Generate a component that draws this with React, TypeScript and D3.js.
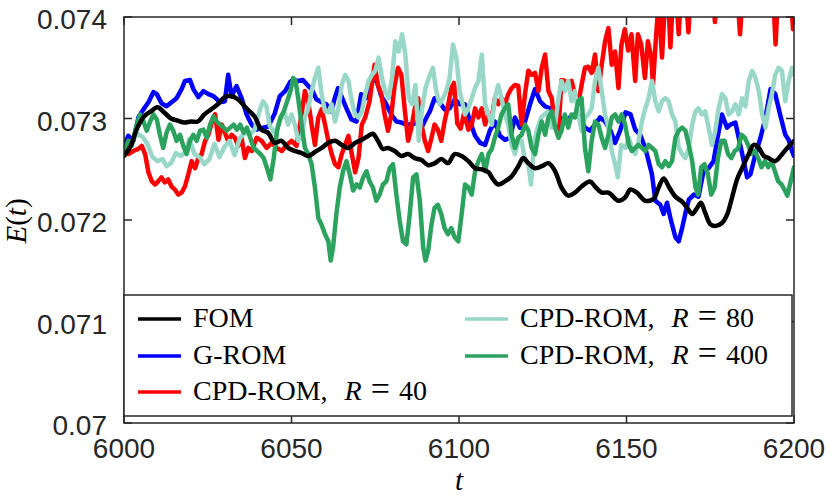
import React from 'react'
import * as d3 from 'd3'

type Pt = [number, number]

// FOM (smooth reference)
const fom: Pt[] = [
  [6000,0.07263],[6002,0.07273],[6004,0.07291],[6006,0.07302],[6008,0.07307],[6010,0.07311],[6012,0.07306],[6014,0.0730],[6016,0.07298],[6018,0.07296],[6020,0.07297],[6022,0.07297],[6024,0.07304],[6026,0.07309],[6028,0.07314],[6030,0.07321],[6032,0.07322],[6034,0.07319],[6036,0.07312],[6037.5,0.07307],[6039,0.07302],[6041,0.07289],[6043,0.07286],[6045,0.07276],[6047,0.07278],[6049,0.07271],[6051,0.07268],[6053,0.07266],[6055,0.07263],[6057,0.07267],[6059,0.07271],[6061,0.07276],[6063,0.07278],[6065,0.07274],[6067,0.07271],[6069,0.07276],[6071,0.07279],[6073,0.07283],[6074.3,0.07285],[6075.8,0.07278],[6077.3,0.0727],[6078.8,0.07271],[6080.8,0.07268],[6082.8,0.07263],[6084.8,0.07265],[6086.8,0.07261],[6088.8,0.07259],[6090.8,0.07254],[6092.8,0.07256],[6094.7,0.0726],[6096.7,0.07256],[6098.7,0.07265],[6100.8,0.07263],[6102.8,0.07258],[6104.8,0.07251],[6106.8,0.0725],[6108.8,0.07247],[6110.2,0.0724],[6111.7,0.07235],[6113.7,0.07238],[6115.7,0.07243],[6117.7,0.07253],[6119.2,0.07261],[6120.7,0.07256],[6122.7,0.07251],[6124.7,0.07253],[6126.7,0.07256],[6128.7,0.07248],[6130.6,0.07232],[6132.6,0.07224],[6134.6,0.07227],[6136.6,0.07233],[6139.1,0.07238],[6140.6,0.07233],[6142.6,0.07227],[6144.6,0.07227],[6147.6,0.07219],[6149.5,0.07222],[6151.2,0.0723],[6153.1,0.07227],[6155.6,0.07219],[6158.1,0.07221],[6159.6,0.07232],[6161.1,0.07241],[6162.6,0.07233],[6164.6,0.07223],[6166.6,0.07218],[6168.1,0.07212],[6169.6,0.07206],[6171.1,0.07212],[6172.2,0.07217],[6173.5,0.07207],[6175,0.07196],[6176.5,0.07194],[6178.5,0.07197],[6180,0.07205],[6181.5,0.07222],[6183,0.0724],[6184.5,0.07251],[6186.5,0.07265],[6188,0.07274],[6189.5,0.07271],[6191,0.07263],[6192.4,0.07261],[6194.4,0.07258],[6196,0.07263],[6198,0.07271],[6200,0.07278],
]

// G-ROM
const grom: Pt[] = [
  [6000,0.07273],[6001.3,0.07283],[6002.8,0.07278],[6004.3,0.07301],[6005.8,0.07309],[6007.3,0.07316],[6008.8,0.07326],[6009.8,0.07324],[6011.2,0.07315],[6012.7,0.07312],[6014.2,0.07316],[6015.7,0.0732],[6017.2,0.07329],[6018.2,0.07337],[6019.7,0.07338],[6020.7,0.07329],[6022.2,0.07321],[6023.7,0.07327],[6025.2,0.07324],[6026.7,0.07322],[6028.7,0.07316],[6030.1,0.07317],[6031.1,0.07343],[6032.1,0.07322],[6033.6,0.07332],[6035.1,0.0732],[6036.6,0.07304],[6038.1,0.07294],[6039.6,0.07289],[6041.5,0.07291],[6043,0.07292],[6045,0.07305],[6046.5,0.07322],[6048.1,0.07327],[6049.6,0.07336],[6050.5,0.07338],[6052,0.07337],[6053.4,0.07338],[6055,0.07332],[6056,0.07329],[6057.4,0.07319],[6059,0.07316],[6060.4,0.07314],[6061.9,0.07307],[6062.9,0.0732],[6063.9,0.0733],[6064.9,0.07322],[6066.4,0.0731],[6067.9,0.07299],[6069.4,0.07297],[6070.8,0.07324],[6072.3,0.0732],[6073.8,0.07337],[6075.3,0.07338],[6076.8,0.07322],[6078.3,0.07314],[6079.8,0.07304],[6081.3,0.07297],[6082.8,0.07296],[6084.3,0.07294],[6085.8,0.07294],[6087.3,0.07296],[6088.8,0.07291],[6090.3,0.07301],[6091.3,0.07307],[6092.7,0.0732],[6094.2,0.07316],[6095.7,0.07309],[6097.2,0.0731],[6098.7,0.07319],[6100.3,0.07314],[6101.8,0.07314],[6103.3,0.07297],[6104.8,0.07283],[6106.3,0.07276],[6107.8,0.07274],[6109.2,0.07288],[6110.7,0.07297],[6112.2,0.07283],[6113.7,0.07279],[6115.2,0.07281],[6116.7,0.07301],[6118.2,0.07291],[6119.7,0.07297],[6121.2,0.07314],[6122.7,0.07329],[6124.2,0.07317],[6125.7,0.07312],[6127.2,0.0731],[6128.7,0.07306],[6130.1,0.07301],[6131.6,0.07297],[6133.1,0.07301],[6134.6,0.07304],[6136.1,0.07302],[6137.6,0.07291],[6139.1,0.07288],[6140.6,0.07294],[6142.1,0.07301],[6143.6,0.07297],[6145.1,0.07289],[6146.6,0.07276],[6148.1,0.07288],[6149.7,0.07306],[6151.2,0.07304],[6152.6,0.07289],[6154.1,0.07284],[6155.6,0.07271],[6156.6,0.07258],[6157.6,0.07245],[6158.6,0.07219],[6160.1,0.07215],[6161.1,0.07206],[6162.1,0.07217],[6163.1,0.07202],[6164.6,0.07183],[6165.6,0.07179],[6166.6,0.07192],[6167.6,0.07207],[6168.6,0.0722],[6170.1,0.07225],[6171.5,0.07223],[6173,0.07248],[6174.5,0.07251],[6176,0.07258],[6177,0.07278],[6178.5,0.07304],[6180,0.07291],[6181,0.07294],[6182.5,0.07296],[6183.5,0.07281],[6185,0.07258],[6186,0.07242],[6187,0.07245],[6188.5,0.07265],[6190,0.07281],[6191.5,0.07301],[6193,0.07329],[6194.4,0.07324],[6196,0.07302],[6197.4,0.07284],[6198.4,0.07279],[6199.4,0.07268],[6200,0.07263],
]

// CPD-ROM, R = 40
const cpd40: Pt[] = [
  [6000,0.0727],[6001.3,0.07265],[6002.8,0.07268],[6004.3,0.0727],[6005.3,0.07273],[6006.3,0.07265],[6007.3,0.07247],[6008.3,0.07238],[6009.3,0.07235],[6010.2,0.07238],[6011.2,0.07242],[6012.2,0.07237],[6013.2,0.0724],[6014.2,0.07233],[6015.2,0.0723],[6016.2,0.07225],[6017.2,0.07227],[6018.2,0.07233],[6019.2,0.07245],[6020.2,0.07258],[6021.2,0.07251],[6022.2,0.07261],[6023.2,0.07265],[6024.2,0.07278],[6025.2,0.07284],[6026.2,0.07296],[6027.2,0.07304],[6028.2,0.07279],[6029.2,0.07294],[6030.1,0.07286],[6031.1,0.07278],[6032.1,0.07284],[6033.1,0.07281],[6034.1,0.07273],[6035.1,0.07281],[6036.1,0.07261],[6037.1,0.07271],[6038.1,0.07268],[6039.6,0.07281],[6041.1,0.07278],[6042.6,0.07271],[6044.1,0.07276],[6045.6,0.07271],[6047.1,0.07268],[6048.6,0.07274],[6050,0.07278],[6051.5,0.07273],[6053,0.07304],[6054,0.07327],[6055,0.07317],[6056,0.07294],[6057,0.07274],[6058,0.07301],[6059,0.07309],[6060,0.07294],[6061,0.07278],[6062,0.07265],[6063,0.07255],[6064,0.07252],[6065,0.07265],[6066,0.07274],[6067,0.07283],[6068,0.07265],[6069,0.07247],[6070,0.07261],[6071,0.07294],[6072,0.07301],[6073.3,0.07317],[6074.8,0.07353],[6075.8,0.07333],[6076.8,0.07324],[6077.8,0.07304],[6078.8,0.07288],[6079.8,0.07304],[6080.8,0.07333],[6081.8,0.0735],[6082.8,0.07343],[6083.8,0.07309],[6084.8,0.07278],[6085.8,0.07291],[6086.8,0.0731],[6087.8,0.0732],[6088.8,0.07294],[6089.8,0.07278],[6090.8,0.07268],[6091.8,0.07281],[6092.7,0.07294],[6093.7,0.07289],[6094.7,0.07278],[6095.7,0.07297],[6096.7,0.07312],[6097.7,0.0733],[6098.5,0.07335],[6099.5,0.07295],[6100.5,0.0729],[6101.5,0.07305],[6102.8,0.07289],[6103.8,0.07294],[6104.8,0.0731],[6105.8,0.07301],[6106.8,0.0731],[6107.8,0.07294],[6108.8,0.07304],[6109.8,0.07301],[6110.7,0.0732],[6111.7,0.07314],[6112.7,0.0732],[6113.7,0.07314],[6114.7,0.07324],[6115.7,0.0733],[6116.7,0.07333],[6117.7,0.07332],[6118.7,0.07294],[6119.7,0.07324],[6120.7,0.07347],[6121.7,0.07343],[6122.7,0.07345],[6123.7,0.07327],[6124.7,0.0735],[6125.7,0.07363],[6126.7,0.07327],[6127.7,0.0732],[6128.7,0.07291],[6129.7,0.07288],[6130.6,0.07338],[6131.6,0.07337],[6132.6,0.07333],[6133.6,0.07337],[6134.6,0.07324],[6135.6,0.07315],[6136.6,0.07333],[6137.6,0.0735],[6138.6,0.07351],[6139.6,0.07345],[6140.6,0.07363],[6141.6,0.07327],[6142.6,0.07353],[6143.6,0.07376],[6144.6,0.07389],[6145.6,0.07353],[6146.6,0.07366],[6147.6,0.0733],[6148.5,0.07373],[6149.5,0.07388],[6150.5,0.07367],[6151.5,0.07383],[6152.6,0.07337],[6153.4,0.07383],[6154.4,0.07373],[6155.5,0.0734],[6156.4,0.07376],[6157.4,0.0736],[6157.9,0.07333],[6158.8,0.0738],[6159.6,0.07415],[6160.6,0.0736],[6161.4,0.0741],[6162.3,0.0743],[6163.1,0.0737],[6164,0.0743],[6164.8,0.0742],[6165.6,0.07383],[6166.5,0.0744],[6167.5,0.0743],[6168.5,0.07385],[6169.5,0.0745],[6171.5,0.0746],[6173.5,0.0744],[6175.5,0.0743],[6176.4,0.07395],[6177.5,0.0745],[6179.5,0.0746],[6181,0.0744],[6181.8,0.07405],[6182.7,0.0744],[6183.9,0.07383],[6185,0.0744],[6187,0.0746],[6189.5,0.0745],[6192,0.0746],[6193.5,0.0744],[6194.5,0.07373],[6195.5,0.0744],[6197,0.0746],[6199,0.0743],[6199.7,0.07388],[6200.2,0.0739],
]

// CPD-ROM, R = 80
const cpd80: Pt[] = [
  [6000,0.07271],[6002,0.07276],[6004,0.07285],[6005.5,0.07282],[6007,0.07275],[6008.5,0.07262],[6010,0.07258],[6011.5,0.0726],[6012.7,0.07253],[6014,0.07256],[6015.5,0.07266],[6017,0.07263],[6018.5,0.07268],[6019.5,0.0728],[6021,0.07265],[6022.5,0.07262],[6024,0.07255],[6025.5,0.0726],[6027,0.07275],[6028.5,0.07262],[6030,0.07272],[6031.5,0.07278],[6033,0.07264],[6034.5,0.0728],[6036,0.07286],[6037.5,0.07284],[6039,0.07289],[6040.5,0.07308],[6041.5,0.07317],[6042.5,0.07312],[6043.5,0.07293],[6045,0.07285],[6046.5,0.07298],[6048,0.07305],[6049,0.07294],[6050,0.07304],[6051,0.07294],[6052,0.07278],[6053,0.07281],[6054,0.07301],[6055,0.0731],[6056,0.07327],[6057,0.0734],[6058,0.0735],[6059,0.07324],[6060,0.07307],[6061,0.07306],[6062,0.07314],[6063,0.07297],[6064,0.0731],[6065,0.07333],[6066,0.07343],[6067,0.07337],[6068,0.07317],[6069,0.07304],[6070,0.07301],[6071,0.07307],[6072,0.07324],[6073,0.07337],[6074,0.07343],[6075,0.07347],[6076,0.0736],[6077,0.0734],[6078,0.07327],[6079,0.0732],[6080,0.0734],[6081,0.07376],[6082,0.07366],[6083,0.07383],[6084,0.07363],[6085,0.0732],[6086,0.07314],[6087,0.07333],[6088,0.07278],[6089,0.0731],[6090,0.0733],[6091,0.0734],[6092.2,0.0735],[6093.2,0.07327],[6094.2,0.07314],[6095.2,0.0732],[6096.2,0.07327],[6097.2,0.0734],[6098.2,0.07373],[6099.2,0.0736],[6100.2,0.07327],[6101.8,0.07304],[6102.8,0.0731],[6103.8,0.0732],[6104.8,0.0733],[6105.8,0.07337],[6106.8,0.07363],[6107.8,0.07314],[6108.8,0.07304],[6109.8,0.07294],[6110.7,0.0732],[6111.7,0.07333],[6112.7,0.0732],[6113.7,0.07304],[6114.7,0.07294],[6115.7,0.07274],[6116.7,0.07265],[6117.7,0.07278],[6118.7,0.07278],[6119.7,0.07258],[6120.7,0.07255],[6121.5,0.07235],[6122.5,0.07278],[6123.5,0.07291],[6124.5,0.07301],[6125.5,0.07304],[6126.5,0.07307],[6127.7,0.07291],[6128.7,0.07294],[6129.7,0.0732],[6130.6,0.07337],[6131.6,0.07327],[6132.6,0.07337],[6133.6,0.07317],[6134.6,0.07327],[6135.6,0.07304],[6136.6,0.07288],[6137.6,0.07301],[6138.6,0.07304],[6139.6,0.0731],[6140.6,0.07337],[6141.6,0.0735],[6142.6,0.07327],[6143.6,0.07304],[6144.6,0.07291],[6145.6,0.07268],[6146.6,0.07255],[6147.4,0.07242],[6148.4,0.07274],[6149.7,0.07271],[6150.7,0.07281],[6151.6,0.07271],[6152.6,0.07265],[6153.6,0.07278],[6154.6,0.07297],[6155.6,0.0731],[6156.6,0.0732],[6157.6,0.07337],[6158.6,0.07317],[6159.6,0.07307],[6160.6,0.07317],[6161.6,0.0732],[6162.6,0.07317],[6163.6,0.07304],[6164.6,0.07297],[6165.6,0.07271],[6166.6,0.07265],[6167.6,0.07261],[6168.6,0.07271],[6169.6,0.07294],[6170.6,0.07307],[6171.5,0.0731],[6172.5,0.07304],[6173.5,0.07307],[6174.5,0.07291],[6175.5,0.07274],[6176.5,0.07288],[6177.5,0.0731],[6178.5,0.07324],[6179.5,0.0732],[6180.5,0.07304],[6181.5,0.07307],[6182.5,0.07314],[6183.5,0.07304],[6184.5,0.0732],[6185.5,0.07312],[6186.5,0.07337],[6187.5,0.07347],[6188.5,0.0734],[6189.5,0.07327],[6190.5,0.07304],[6191.5,0.07291],[6192.4,0.0731],[6193.4,0.07324],[6194.4,0.07343],[6195.4,0.0735],[6196.4,0.07347],[6197.4,0.07317],[6198.4,0.07337],[6199.4,0.0735],[6200,0.07343],
]

// CPD-ROM, R = 400
const cpd400: Pt[] = [
  [6000,0.07268],[6001.3,0.07278],[6002.3,0.07273],[6003.8,0.07294],[6004.8,0.07304],[6005.8,0.07297],[6006.8,0.07288],[6007.8,0.07297],[6008.8,0.07304],[6009.8,0.07299],[6010.7,0.07284],[6011.7,0.07271],[6012.7,0.07286],[6013.7,0.07294],[6014.7,0.07288],[6015.7,0.07278],[6016.7,0.07284],[6017.7,0.07273],[6018.7,0.07265],[6019.7,0.07278],[6020.7,0.07284],[6021.7,0.07278],[6022.7,0.07288],[6023.7,0.07289],[6024.7,0.07281],[6025.7,0.07294],[6026.7,0.07302],[6027.7,0.07297],[6028.7,0.07294],[6029.7,0.07291],[6030.7,0.07288],[6031.7,0.07291],[6032.7,0.07294],[6033.7,0.07289],[6034.7,0.07294],[6035.7,0.07286],[6036.7,0.07291],[6037.7,0.07281],[6038.7,0.07271],[6039.7,0.07268],[6040.7,0.07265],[6041.7,0.07261],[6042.7,0.07251],[6043.7,0.0724],[6044.7,0.07261],[6045.7,0.07288],[6046.7,0.07301],[6047.7,0.07307],[6048.7,0.07317],[6049.7,0.07327],[6050.5,0.0734],[6051.2,0.07337],[6052,0.0732],[6053,0.07294],[6054,0.07271],[6055,0.07265],[6056,0.07255],[6057,0.07232],[6058,0.07202],[6059,0.07195],[6060,0.07186],[6061,0.07179],[6061.7,0.0716],[6062.4,0.07173],[6063.4,0.07206],[6064.4,0.07232],[6065.4,0.07248],[6066.4,0.07258],[6067.4,0.07245],[6068.4,0.07229],[6069.4,0.07235],[6070.4,0.07232],[6071.4,0.07242],[6072.4,0.07248],[6073.3,0.07238],[6074.3,0.07232],[6075.3,0.07219],[6076.3,0.07225],[6077.3,0.07235],[6078.3,0.07238],[6079.3,0.07251],[6080.3,0.07255],[6081.3,0.07225],[6082.3,0.07199],[6083.3,0.07179],[6084.3,0.07176],[6085.3,0.07206],[6086.3,0.07242],[6087.3,0.07245],[6088.3,0.07219],[6089.3,0.07173],[6090,0.0716],[6090.8,0.0717],[6091.8,0.07196],[6092.7,0.07212],[6093.7,0.07215],[6094.7,0.07206],[6095.7,0.07192],[6096.7,0.07186],[6097.7,0.07192],[6098.7,0.07183],[6099.8,0.07179],[6100.8,0.07206],[6101.8,0.07235],[6102.8,0.07232],[6103.8,0.07225],[6104.8,0.07248],[6105.8,0.07258],[6106.8,0.07265],[6107.8,0.07248],[6108.8,0.07265],[6109.8,0.0727],[6110.7,0.07281],[6111.7,0.07291],[6112.7,0.07304],[6113.7,0.0731],[6114.7,0.07314],[6115.7,0.07284],[6116.7,0.07271],[6117.7,0.07281],[6118.7,0.07284],[6119.7,0.07294],[6120.7,0.07288],[6121.7,0.07271],[6122.7,0.07265],[6123.7,0.07284],[6124.7,0.07297],[6125.7,0.07284],[6126.7,0.07301],[6127.7,0.07307],[6128.7,0.07291],[6129.7,0.07281],[6130.6,0.07288],[6131.6,0.07304],[6132.6,0.07291],[6133.6,0.07304],[6134.6,0.07301],[6135.6,0.07317],[6136.6,0.0732],[6137.6,0.07271],[6138.6,0.07248],[6139.6,0.07278],[6140.6,0.07297],[6141.6,0.07294],[6142.6,0.07281],[6143.6,0.07271],[6144.6,0.07284],[6145.6,0.07301],[6146.6,0.07304],[6147.6,0.07297],[6148.6,0.07304],[6149.6,0.07294],[6150.7,0.07274],[6151.6,0.07268],[6152.6,0.07271],[6153.6,0.07274],[6154.6,0.07271],[6155.6,0.07268],[6156.6,0.07274],[6157.6,0.07271],[6158.6,0.07268],[6159.6,0.07255],[6160.6,0.07252],[6161.6,0.07258],[6162.6,0.07253],[6163.6,0.07258],[6164.6,0.07281],[6165.6,0.07288],[6166.6,0.07291],[6167.6,0.07288],[6168.6,0.07274],[6169.6,0.07258],[6170.6,0.07232],[6171.4,0.07225],[6172.3,0.07252],[6173.3,0.07255],[6174.3,0.07245],[6175.3,0.07225],[6176.3,0.07232],[6177.3,0.07261],[6178.3,0.07278],[6179.3,0.07278],[6180.3,0.07265],[6181.3,0.07261],[6182.3,0.07268],[6183.3,0.0727],[6184.3,0.07284],[6185.3,0.07281],[6186.3,0.07274],[6187.3,0.07265],[6188.3,0.07268],[6189.3,0.07261],[6190.3,0.07252],[6191.3,0.07258],[6192.3,0.07252],[6193.3,0.07258],[6194.3,0.07248],[6195.3,0.07238],[6196.3,0.07235],[6197.3,0.07229],[6198,0.07224],[6199,0.07238],[6200,0.07252],
]

const xTicks = [6000, 6050, 6100, 6150, 6200]
const yTicks = [0.07, 0.071, 0.072, 0.073, 0.074]
const yTickLabels = ['0.07', '0.071', '0.072', '0.073', '0.074']

const COLORS = {
  fom: '#000000',
  grom: '#0000FF',
  cpd40: '#FF0000',
  cpd80: '#99D8C9',
  cpd400: '#2CA25F',
  axis: '#262626',
}

const W = 830
const H = 497
const plot = { left: 124, right: 794, top: 17, bottom: 423 }
const SANS = '"Liberation Sans", Arial, Helvetica, sans-serif'
const SERIF = '"Liberation Serif", "Times New Roman", serif'

export default function App() {
  const x = d3.scaleLinear().domain([6000, 6200]).range([plot.left, plot.right])
  const y = d3.scaleLinear().domain([0.07, 0.074]).range([plot.bottom, plot.top])

  const line = d3.line<Pt>().x(d => x(d[0])).y(d => y(d[1]))
  const smooth = d3.line<Pt>().x(d => x(d[0])).y(d => y(d[1])).curve(d3.curveCatmullRom)

  // draw order: later ones on top
  const series = [
    { data: grom, color: COLORS.grom, gen: line },
    { data: cpd40, color: COLORS.cpd40, gen: line },
    { data: cpd80, color: COLORS.cpd80, gen: line },
    { data: cpd400, color: COLORS.cpd400, gen: line },
    { data: fom, color: COLORS.fom, gen: smooth },
  ]

  const tickLen = 8
  const legendRows = [319, 356, 392]
  const legendItems = [
    { label: 'FOM', r: '', color: COLORS.fom, col: 0, row: 0 },
    { label: 'G-ROM', r: '', color: COLORS.grom, col: 0, row: 1 },
    { label: 'CPD-ROM,', r: '40', color: COLORS.cpd40, col: 0, row: 2 },
    { label: 'CPD-ROM,', r: '80', color: COLORS.cpd80, col: 1, row: 0 },
    { label: 'CPD-ROM,', r: '400', color: COLORS.cpd400, col: 1, row: 1 },
  ]
  const colX = [138, 465]

  return (
    <svg width={W} height={H} style={{ position: 'absolute', left: 0, top: 0, background: '#fff' }}>
      <defs>
        <clipPath id="plot-clip">
          <rect x={plot.left} y={plot.top} width={plot.right - plot.left} height={plot.bottom - plot.top} />
        </clipPath>
      </defs>

      <g clipPath="url(#plot-clip)">
        {series.map((s, i) => (
          <path key={i} d={s.gen(s.data) || ''} fill="none" stroke={s.color}
            strokeWidth={4.5} strokeLinejoin="round" strokeLinecap="round" />
        ))}
      </g>

      {/* axes box and ticks */}
      <rect x={plot.left} y={plot.top} width={plot.right - plot.left} height={plot.bottom - plot.top}
        fill="none" stroke={COLORS.axis} strokeWidth={1.5} />
      {xTicks.map(t => (
        <g key={'x' + t}>
          <line x1={x(t)} x2={x(t)} y1={plot.bottom} y2={plot.bottom - tickLen} stroke={COLORS.axis} strokeWidth={1.5} />
          <line x1={x(t)} x2={x(t)} y1={plot.top} y2={plot.top + tickLen} stroke={COLORS.axis} strokeWidth={1.5} />
          <text x={x(t)} y={458} textAnchor="middle" fontFamily={SANS} fontSize={28} fill={COLORS.axis}>{t}</text>
        </g>
      ))}
      {yTicks.map((v, i) => (
        <g key={'y' + v}>
          <line x1={plot.left} x2={plot.left + tickLen} y1={y(v)} y2={y(v)} stroke={COLORS.axis} strokeWidth={1.5} />
          <line x1={plot.right} x2={plot.right - tickLen} y1={y(v)} y2={y(v)} stroke={COLORS.axis} strokeWidth={1.5} />
          <text x={107} y={y(v) + 12} textAnchor="end" fontFamily={SANS} fontSize={28} fill={COLORS.axis}>{yTickLabels[i]}</text>
        </g>
      ))}

      {/* axis labels */}
      <text transform="translate(26,221) rotate(-90)" textAnchor="middle" fontFamily={SERIF} fontSize={29} fill="#000">
        <tspan fontStyle="italic">E</tspan>(<tspan fontStyle="italic">t</tspan>)
      </text>
      <text x={459} y={490} textAnchor="middle" fontFamily={SERIF} fontSize={29} fontStyle="italic" fill="#000">t</text>

      {/* legend */}
      <rect x={124} y={295} width={668} height={121} fill="#fff" stroke={COLORS.axis} strokeWidth={1.5} />
      {legendItems.map((it, i) => {
        const lx = colX[it.col]
        const ly = legendRows[it.row]
        return (
          <g key={i}>
            <line x1={lx} x2={lx + 43} y1={ly} y2={ly} stroke={it.color} strokeWidth={3.5} />
            <text x={lx + 55} y={ly + 8} fontFamily={SERIF} fontSize={28} fill="#000">
              {it.label}
              {it.r && (
                <>
                  <tspan dx={17} fontStyle="italic">R</tspan>
                  <tspan dx={9} fontSize={34}>=</tspan>
                  <tspan dx={9}>{it.r}</tspan>
                </>
              )}
            </text>
          </g>
        )
      })}
    </svg>
  )
}
